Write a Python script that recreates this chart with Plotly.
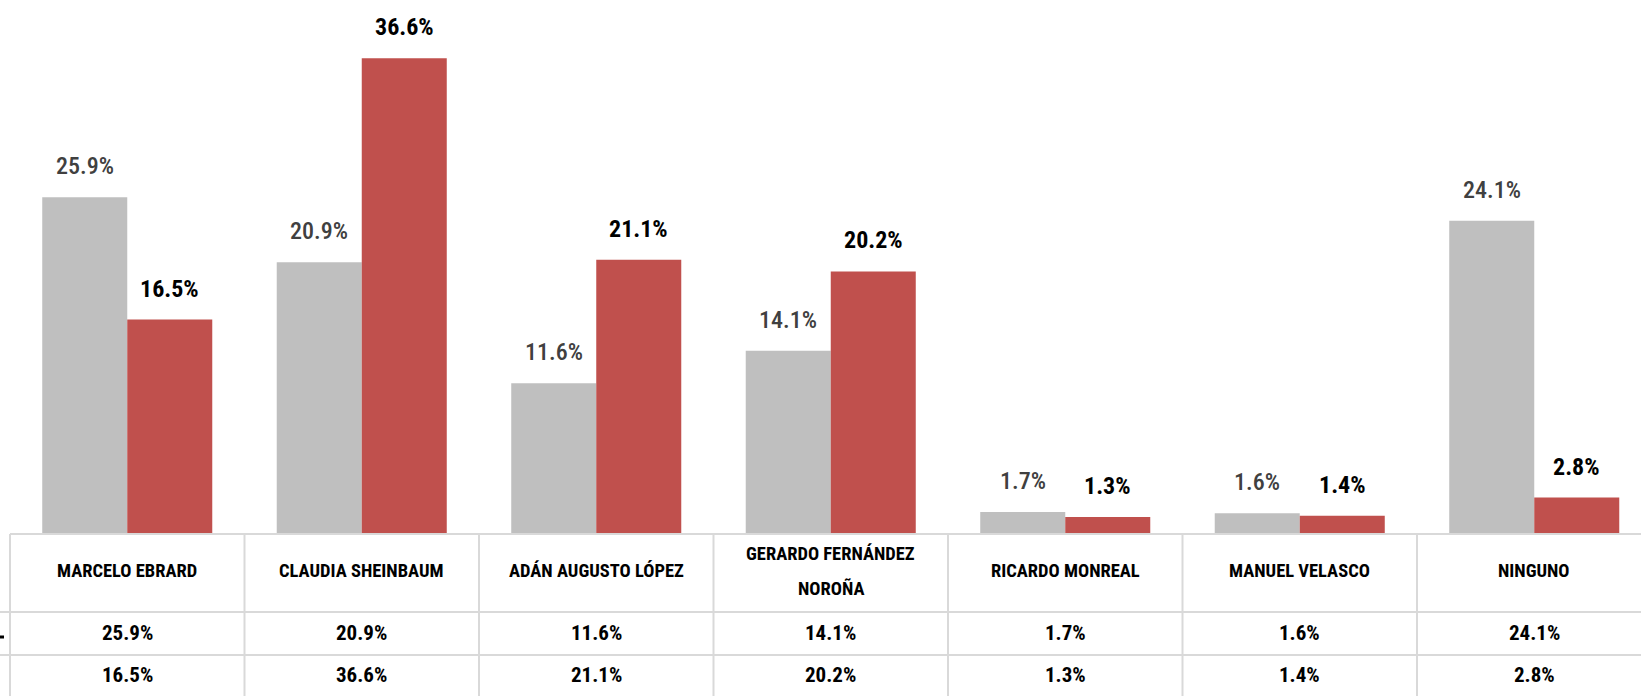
import plotly.graph_objects as go

# ---- data ----
candidates = ["MARCELO EBRARD", "CLAUDIA SHEINBAUM", "ADÁN AUGUSTO LÓPEZ",
              "GERARDO FERNÁNDEZ\nNOROÑA", "RICARDO MONREAL", "MANUEL VELASCO", "NINGUNO"]
series_a = [25.9, 20.9, 11.6, 14.1, 1.7, 1.6, 24.1]   # grey
series_b = [16.5, 36.6, 21.1, 20.2, 1.3, 1.4, 2.8]    # red

# ---- layout constants (pixels) ----
W, H = 1641, 696
LEFT = 10            # left edge of first category
CAT_W = 234.5        # category width in px
BASE_Y = 534         # bar baseline (px from top)
PX_PER_UNIT = 13.0
FONT = "Roboto Condensed, Liberation Sans Narrow, Roboto, sans-serif"
GREY = "#bfbfbf"
RED = "#c0504d"
GRID = "#d9d9d9"

x0 = -0.5 - LEFT / CAT_W
x1 = x0 + W / CAT_W

def py(ypx):
    return 1 - ypx / H

xs = list(range(len(candidates)))

fig = go.Figure()
fig.add_trace(go.Bar(x=xs, y=series_a, marker=dict(color=GREY, line=dict(width=0)), name="A"))
fig.add_trace(go.Bar(x=xs, y=series_b, marker=dict(color=RED, line=dict(width=0)), name="B"))

annotations = []
bar_half = CAT_W * 0.725 / 4
for i in xs:
    annotations.append(dict(x=i, y=series_a[i], xref="x", yref="y", xshift=-bar_half, yshift=31,
                            text=f"{series_a[i]:.1f}%", showarrow=False, yanchor="middle",
                            font=dict(family=FONT, size=24, color="#404040", weight=500)))
    annotations.append(dict(x=i, y=series_b[i], xref="x", yref="y", xshift=bar_half, yshift=31,
                            text=f"<b>{series_b[i]:.1f}%</b>", showarrow=False, yanchor="middle",
                            font=dict(family=FONT, size=24, color="#000000")))

# table text
HEADER_Y = 571
ROW_A_Y = 633
ROW_B_Y = 675
for i, name in enumerate(candidates):
    lines = name.split("\n")
    n = len(lines)
    for k, ln in enumerate(lines):
        yy = HEADER_Y + (k - (n - 1) / 2) * 35
        annotations.append(dict(x=i, y=py(yy), xref="x", yref="paper", text=f"<b>{ln}</b>",
                                showarrow=False, yanchor="middle",
                                font=dict(family=FONT, size=18.5, color="#000000")))
    annotations.append(dict(x=i, y=py(ROW_A_Y), xref="x", yref="paper", text=f"<b>{series_a[i]:.1f}%</b>",
                            showarrow=False, yanchor="middle", font=dict(family=FONT, size=21, color="#000000")))
    annotations.append(dict(x=i, y=py(ROW_B_Y), xref="x", yref="paper", text=f"<b>{series_b[i]:.1f}%</b>",
                            showarrow=False, yanchor="middle", font=dict(family=FONT, size=21, color="#000000")))

shapes = []
line = dict(color=GRID, width=2)
# horizontal table lines
shapes.append(dict(type="line", xref="x", yref="paper", x0=-0.5, x1=x1, y0=py(BASE_Y), y1=py(BASE_Y), line=line))
for yy in (612, 655):
    shapes.append(dict(type="line", xref="paper", yref="paper", x0=0, x1=1, y0=py(yy), y1=py(yy), line=line))
# vertical table lines
for k in range(len(candidates) + 1):
    xv = -0.5 + k
    shapes.append(dict(type="line", xref="x", yref="paper", x0=xv, x1=xv, y0=py(BASE_Y), y1=0, line=line))
# legend key remnant
shapes.append(dict(type="line", xref="paper", yref="paper", x0=0, x1=4 / W, y0=py(637), y1=py(637),
                   line=dict(color="#000000", width=3)))

fig.update_layout(
    width=W, height=H,
    margin=dict(l=0, r=0, t=0, b=0),
    paper_bgcolor="white", plot_bgcolor="white",
    barmode="group", bargap=0.275, bargroupgap=0,
    showlegend=False,
    xaxis=dict(range=[x0, x1], showticklabels=False, showgrid=False, zeroline=False, showline=False, ticks="",
               fixedrange=True),
    yaxis=dict(domain=[py(BASE_Y), 1], range=[0, BASE_Y / PX_PER_UNIT], showticklabels=False,
               showgrid=False, zeroline=False, showline=False, ticks="", fixedrange=True),
    annotations=annotations,
    shapes=shapes,
)

fig.write_html("out.html", config={"displayModeBar": False},
               post_script="document.body.style.margin='0';document.body.style.overflow='hidden';")
